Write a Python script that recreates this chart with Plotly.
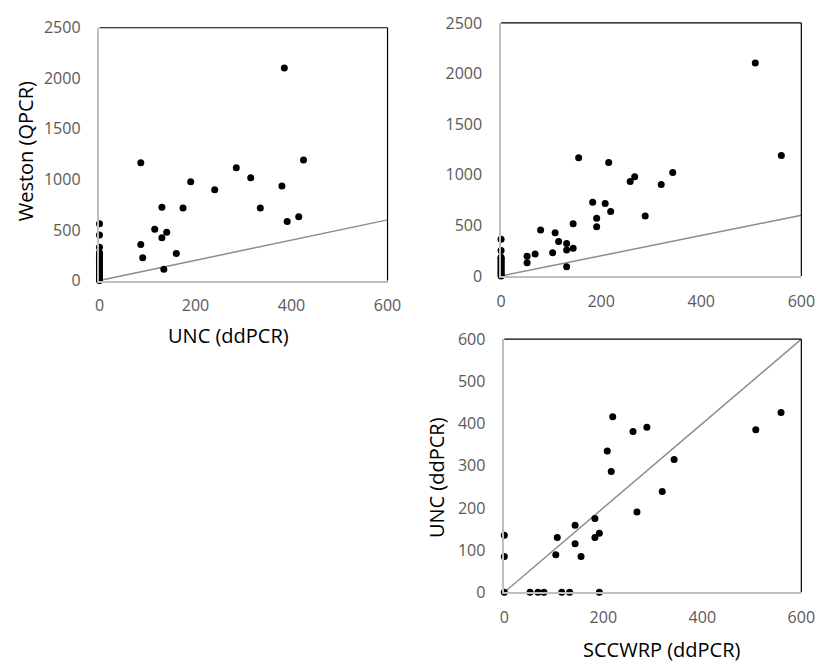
import plotly.graph_objects as go

W, H = 830, 670

# Panel A: UNC (ddPCR) vs Weston (QPCR)
unc_a = [385, 425, 86, 285, 315, 190, 380, 240, 130, 174, 335, 415, 391, 115, 140, 130, 86, 160, 90, 134,
         0, 0, 0, 0, 0, 0, 0, 0, 0, 0, 0, 0, 0, 0, 0, 0, 0, 0, 0, 0, 0]
weston_a = [2101, 1193, 1164, 1116, 1017, 976, 934, 899, 724, 717, 717, 631, 583, 507, 478, 424, 357, 268, 226, 112,
            561, 450, 329, 275, 260, 245, 225, 205, 190, 170, 150, 130, 110, 95, 75, 60, 45, 30, 15, 5, 0]

# Panel B: SCCWRP (ddPCR) vs Weston (QPCR)
sccwrp_b = [508, 560, 155, 215, 343, 267, 258, 320, 183, 208, 219, 288, 191, 144, 191, 79, 108, 115, 131, 144,
            131, 103, 68, 52, 52, 131,
            0, 0, 0, 0, 0, 0, 0, 0, 0, 0, 0, 0, 0, 0, 0, 0]
weston_b = [2105, 1191, 1169, 1121, 1022, 981, 933, 904, 729, 716, 637, 592, 570, 516, 487, 455, 427, 341, 322, 274,
            258, 229, 217, 194, 131, 92,
            363, 252, 185, 175, 160, 145, 130, 115, 100, 85, 70, 55, 40, 25, 10, 0]

# Panel C: SCCWRP (ddPCR) vs UNC (ddPCR)
sccwrp_c = [559, 508, 219, 260, 288, 208, 216, 343, 319, 268, 183, 143, 192, 183, 107, 143, 104, 155,
            0, 0, 0, 52, 68, 80, 116, 132, 192]
unc_c = [426, 385, 416, 381, 391, 335, 286, 315, 239, 190, 175, 159, 140, 130, 130, 115, 89, 85,
         135, 85, 0, 0, 0, 0, 0, 0, 0]

# 1:1 reference line
one_to_one = [0, 600]

x_ticks = [0, 200, 400, 600]
weston_ticks = [0, 500, 1000, 1500, 2000, 2500]
unc_ticks = [0, 100, 200, 300, 400, 500, 600]


def px_x(a, b):
    return [a / W, b / W]


def px_y(top, bottom):
    return [1 - bottom / H, 1 - top / H]


panels = [
    dict(x=unc_a, y=weston_a, xd=px_x(96.7, 391.5), yd=px_y(17.3, 278.7), yr=[0, 2500], yt=weston_ticks),
    dict(x=sccwrp_b, y=weston_b, xd=px_x(507.7, 815.0), yd=px_y(12.3, 274.0), yr=[0, 2500], yt=weston_ticks),
    dict(x=sccwrp_c, y=unc_c, xd=px_x(511.0, 815.0), yd=px_y(339.3, 601.0), yr=[0, 600], yt=unc_ticks),
]

fig = go.Figure()
tick_font = dict(family="Open Sans, sans-serif", size=16, color="#595959")
title_font = dict(family="Open Sans, sans-serif", size=20, color="#000000")
layout = dict(
    width=W, height=H, margin=dict(l=0, r=0, t=0, b=0),
    paper_bgcolor="white", plot_bgcolor="white", showlegend=False,
)
shapes = []
for i, p in enumerate(panels, start=1):
    sfx = "" if i == 1 else str(i)
    xa, ya = "x" + sfx, "y" + sfx
    fig.add_trace(go.Scatter(x=one_to_one, y=one_to_one, mode="lines",
                             line=dict(color="#8c8c8c", width=1.5),
                             xaxis=xa, yaxis=ya, hoverinfo="skip"))
    fig.add_trace(go.Scatter(x=p["x"], y=p["y"], mode="markers",
                             marker=dict(color="black", size=7),
                             cliponaxis=False, xaxis=xa, yaxis=ya))
    layout["xaxis" + sfx] = dict(
        domain=p["xd"], range=[0, 600], tickvals=x_ticks, anchor=ya,
        showgrid=False, zeroline=False, showline=True, linecolor="#bfbfbf", linewidth=1.5,
        ticks="", tickfont=tick_font, ticklabelstandoff=10,
    )
    layout["yaxis" + sfx] = dict(
        domain=p["yd"], range=p["yr"], tickvals=p["yt"], anchor=xa,
        showgrid=False, zeroline=False, showline=True, linecolor="#bfbfbf", linewidth=1.5,
        ticks="", tickfont=tick_font, ticklabelstandoff=14,
    )
    # black top and right frame of the plot area
    shapes.append(dict(type="line", xref="paper", yref="paper",
                       x0=p["xd"][0], x1=p["xd"][1], y0=p["yd"][1], y1=p["yd"][1],
                       line=dict(color="black", width=1.2)))
    shapes.append(dict(type="line", xref="paper", yref="paper",
                       x0=p["xd"][1], x1=p["xd"][1], y0=p["yd"][0], y1=p["yd"][1],
                       line=dict(color="black", width=1.2)))

layout["shapes"] = shapes
layout["annotations"] = [
    dict(text="Weston (QPCR)", x=20.5 / W, y=1 - 145 / H, xref="paper", yref="paper",
         textangle=-90, showarrow=False, font=title_font, xanchor="center", yanchor="middle"),
    dict(text="UNC (ddPCR)", x=229 / W, y=1 - 336 / H, xref="paper", yref="paper",
         showarrow=False, font=title_font, xanchor="center", yanchor="middle"),
    dict(text="UNC (ddPCR)", x=441 / W, y=1 - 482 / H, xref="paper", yref="paper",
         textangle=-90, showarrow=False, font=title_font, xanchor="center", yanchor="middle"),
    dict(text="SCCWRP (ddPCR)", x=672 / W, y=1 - 660.5 / H, xref="paper", yref="paper",
         showarrow=False, font=title_font, xanchor="center", yanchor="middle"),
]
fig.update_layout(**layout)
fig.write_html("out.html")
